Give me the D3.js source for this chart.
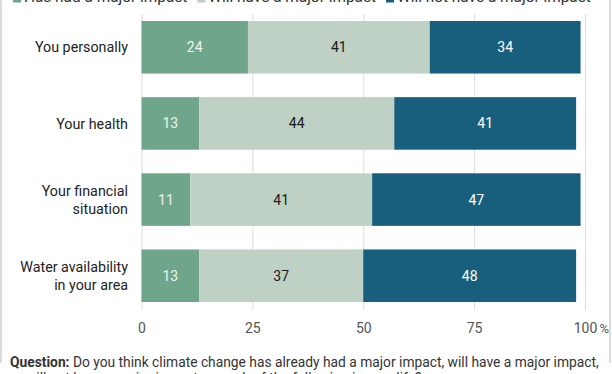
<!DOCTYPE html>
<html>
<head>
<meta charset="utf-8">
<script src="https://cdn.jsdelivr.net/npm/d3@7"></script>
<style>
  html, body { margin: 0; padding: 0; background: #fff; }
  svg { display: block; font-family: Roboto, "Noto Sans", sans-serif; }
</style>
</head>
<body>
<div id="ChartContainer"></div>
<script>
var categories = ["You personally", "Your health", "Your financial situation", "Water availability in your area"]
var labelLines = [["You personally"], ["Your health"], ["Your financial", "situation"], ["Water availability", "in your area"]]
var seriesNames = ["Has had a major impact", "Will have a major impact", "Will not have a major impact"]
var hasHad = [24, 13, 11, 13]
var willHave = [41, 44, 41, 37]
var willNot = [34, 41, 47, 48]
var tickValues = [0, 25, 50, 75, 100]
var colors = ["#6fa58a", "#bfd0c4", "#185e7d"]
var textColors = ["#eef4ef", "#1a1a1a", "#ffffff"]

var fullWidth = 612
var fullHeight = 374
var margin = { top: 21, left: 141.5, right: 27, bottom: 302 }

var svg = d3.select("#ChartContainer").append("svg")
  .attr("width", fullWidth)
  .attr("height", fullHeight)

// frame sides
svg.append("rect").attr("x", 0).attr("y", 0).attr("width", 2).attr("height", 363).attr("fill", "#dcdcdc")
svg.append("rect").attr("x", 609).attr("y", 0).attr("width", 2).attr("height", 363).attr("fill", "#dcdcdc")

var x = d3.scaleLinear().domain([0, 100]).range([margin.left, fullWidth - margin.right])
var y = d3.scaleBand().domain(categories).range([margin.top, margin.bottom]).paddingInner(0.31)

// gridlines
svg.append("g").selectAll("line")
  .data(tickValues)
  .enter().append("line")
  .attr("x1", d => x(d) + 0.5)
  .attr("x2", d => x(d) + 0.5)
  .attr("y1", 14)
  .attr("y2", 310)
  .attr("stroke", "#dddddd")
  .attr("stroke-width", 1)

// stacked data
var rows = categories.map((c, i) => ({ cat: c, vals: [hasHad[i], willHave[i], willNot[i]] }))
var stack = d3.stack().keys([0, 1, 2]).value((d, k) => d.vals[k])
var series = stack(rows)

var layers = svg.append("g").selectAll("g")
  .data(series)
  .enter().append("g")
  .attr("fill", (d, i) => colors[i])

layers.selectAll("rect")
  .data(d => d)
  .enter().append("rect")
  .attr("x", d => x(d[0]))
  .attr("width", d => x(d[1]) - x(d[0]))
  .attr("y", d => y(d.data.cat))
  .attr("height", y.bandwidth())

layers.selectAll("text")
  .data(d => d)
  .enter().append("text")
  .attr("x", d => (x(d[0]) + x(d[1])) / 2)
  .attr("y", d => y(d.data.cat) + y.bandwidth() / 2)
  .attr("dy", "0.36em")
  .attr("text-anchor", "middle")
  .attr("font-size", "14px")
  .attr("fill", function () { return textColors[d3.select(this.parentNode).datum().key] })
  .text(d => d[1] - d[0])

// row labels
var rowLabels = svg.append("g").selectAll("text")
  .data(categories)
  .enter().append("text")
  .attr("text-anchor", "end")
  .attr("font-size", "14.3px")
  .attr("fill", "#222")
  .attr("x", 128)
  .attr("y", d => y(d) + y.bandwidth() / 2)
rowLabels.each(function (d, i) {
  var lines = labelLines[i]
  var lh = 18
  var start = -(lines.length - 1) * lh / 2
  d3.select(this).selectAll("tspan")
    .data(lines)
    .enter().append("tspan")
    .attr("x", 128)
    .attr("dy", (l, j) => j === 0 ? (start / 14.3 + 0.36) + "em" : lh + "px")
    .text(l => l)
})

// x-axis tick labels
svg.append("g").selectAll("text")
  .data(tickValues)
  .enter().append("text")
  .attr("x", d => x(d) + 0.5)
  .attr("y", 333)
  .attr("text-anchor", "middle")
  .attr("font-size", "14px")
  .attr("fill", "#555")
  .text(d => d)
svg.append("text")
  .attr("x", x(100) + 14.5)
  .attr("y", 333)
  .attr("font-size", "13px")
  .attr("fill", "#555")
  .text("%")

// legend (partly cut off at top)
var lx = 13
var legend = svg.append("g")
seriesNames.forEach((name, i) => {
  legend.append("rect")
    .attr("x", lx).attr("y", -7)
    .attr("width", 8).attr("height", 9.5)
    .attr("fill", colors[i])
  var t = legend.append("text")
    .attr("x", lx + 11)
    .attr("y", 1.5)
    .attr("font-size", "15.4px")
    .attr("fill", "#333")
    .text(name)
  lx += 11 + t.node().getComputedTextLength() + 10
})

// question note
var note = svg.append("text")
  .attr("x", 10)
  .attr("y", 367)
  .attr("font-size", "13.8px")
  .attr("fill", "#333")
note.append("tspan").attr("font-weight", "bold").text("Question:")
note.append("tspan").text(" Do you think climate change has already had a major impact, will have a major impact,")
svg.append("text")
  .attr("x", 10)
  .attr("y", 383)
  .attr("font-size", "13.8px")
  .attr("fill", "#333")
  .text("or will not have a major impact on each of the following in your life?")
</script>
</body>
</html>
